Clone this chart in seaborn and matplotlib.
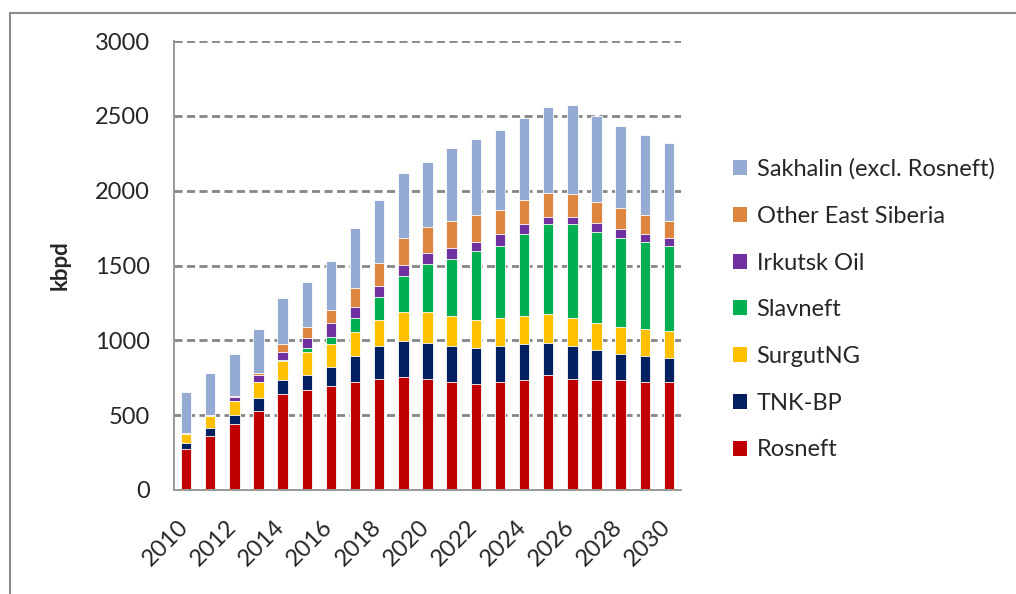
import numpy as np
import pandas as pd
import matplotlib
matplotlib.use("Agg")
import matplotlib.pyplot as plt
import matplotlib.transforms as mtransforms
import seaborn as sns
from matplotlib.patches import Patch, Rectangle

# ── data (kbpd) ──
years = list(range(2010, 2031))
rosneft = [274, 363, 441, 527, 641, 668, 694, 721, 743, 754, 743,
           721, 708, 721, 732, 770, 743, 732, 732, 721, 721]
tnk_bp = [38, 51, 62, 89, 91, 100, 125, 174, 216, 243, 241,
          238, 238, 238, 241, 214, 216, 203, 176, 174, 163]
surgut = [62, 78, 89, 103, 127, 156, 156, 164, 178, 191, 204,
          205, 191, 192, 191, 193, 192, 178, 180, 180, 178]
slavneft = [0, 0, 0, 0, 11, 26, 49, 92, 154, 241, 319,
            381, 459, 482, 545, 597, 623, 610, 597, 583, 571]
irkutsk = [10, 11, 27, 51, 49, 63, 89, 75, 75, 75, 75,
           75, 62, 76, 65, 51, 51, 62, 62, 51, 52]
other_es = [0, 0, 9, 11, 56, 75, 89, 127, 154, 178, 178,
            180, 178, 165, 164, 162, 151, 140, 140, 127, 113]
sakhalin = [273, 280, 282, 294, 305, 305, 329, 396, 418, 434, 432,
            483, 510, 534, 548, 575, 599, 574, 548, 534, 523]

names = ["Rosneft", "TNK-BP", "SurgutNG", "Slavneft", "Irkutsk Oil",
         "Other East Siberia", "Sakhalin (excl. Rosneft)"]
colors = ["#C00000", "#002060", "#FFC000", "#00B050", "#7030A0",
          "#DE8640", "#95ABD3"]

df = pd.DataFrame(dict(zip(names, [rosneft, tnk_bp, surgut, slavneft,
                                   irkutsk, other_es, sakhalin])),
                  index=[str(y) for y in years])
cum = df.cumsum(axis=1)

sns.set_style("white")
plt.rcParams["font.family"] = ["Lato", "DejaVu Sans"]

fig = plt.figure(figsize=(10.16, 5.94), dpi=100)
ax = fig.add_axes([174 / 1016, 1 - 490 / 594, 507 / 1016, 449 / 594])

# stacked bars: draw cumulative totals from the top series down
for name, col in reversed(list(zip(names, colors))):
    sns.barplot(x=cum.index, y=cum[name].values, color=col, saturation=1,
                width=0.43, edgecolor="white", linewidth=0.6, ax=ax)

grey = "#999999"
ax.set_xlim(-0.5, len(years) - 0.5)
ax.set_ylim(0, 3000)
ax.set_yticks(range(0, 3001, 500))
ax.yaxis.grid(True, color="#868686", linestyle=(0, (2.9, 1.6)), linewidth=2)
ax.xaxis.grid(False)
ax.set_axisbelow(True)

for side in ["top", "right"]:
    ax.spines[side].set_visible(False)
for side in ["left", "bottom"]:
    ax.spines[side].set_color(grey)
    ax.spines[side].set_linewidth(1.4)

ax.set_xticks(range(0, len(years), 2))
ax.set_xticklabels([str(y) for y in years[::2]], rotation=45,
                   ha="right", va="top", fontsize=17)
ax.set_xticks(np.arange(-0.5, len(years), 1), minor=True)
ax.tick_params(axis="x", which="major", length=0, pad=19)
ax.tick_params(axis="x", which="minor", length=5, width=1.4,
               color=grey, direction="out")
ax.tick_params(axis="y", length=11, width=1.4, color=grey,
               direction="inout", labelsize=17, pad=12)

shift = mtransforms.ScaledTranslation(0.06, 0, fig.dpi_scale_trans)
for lab in ax.get_xticklabels():
    lab.set_transform(lab.get_transform() + shift)

ax.set_xlabel("")
ax.set_ylabel("kbpd", fontsize=16, fontweight="bold")
ax.yaxis.set_label_coords(-0.203, 0.5)

handles = [Patch(facecolor=c, edgecolor="none") for c in reversed(colors)]
fig.legend(handles, list(reversed(names)), loc="center left",
           bbox_to_anchor=(733 / 1016, 1 - 309.5 / 594),
           bbox_transform=fig.transFigure, frameon=False, fontsize=17,
           handlelength=0.6, handleheight=0.6, handletextpad=0.4,
           labelspacing=1.09, borderpad=0, borderaxespad=0)

# chart-area border (cropped on the right and bottom)
fig.add_artist(Rectangle((10 / 1016, -0.5), 2, 0.5 + 1 - 13 / 594,
                         transform=fig.transFigure, fill=False,
                         edgecolor="#8c8c8c", linewidth=1.5))

fig.savefig("out.png", dpi=100)
